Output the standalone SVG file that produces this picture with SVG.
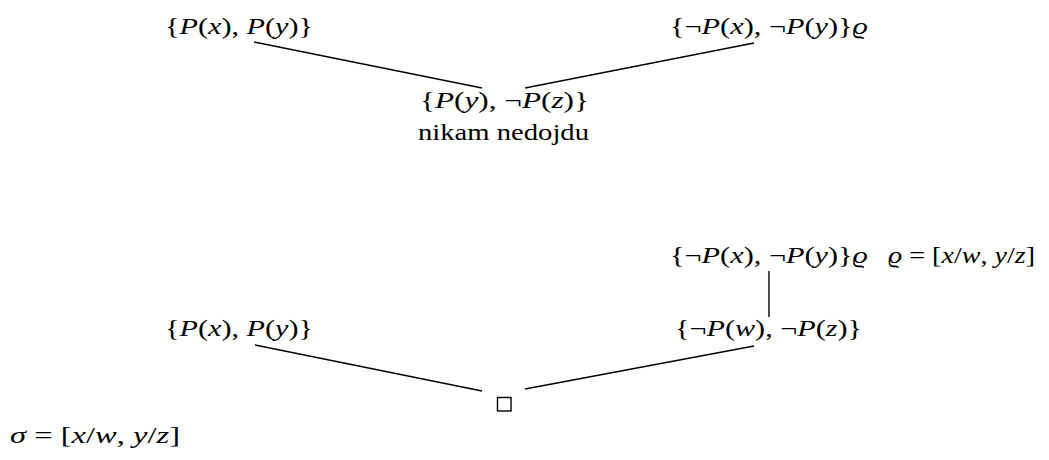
<svg xmlns="http://www.w3.org/2000/svg" width="1049" height="460" viewBox="0 0 1049 460">
<style>
text{font-family:"Liberation Serif","DejaVu Serif",serif;font-size:24px;fill:#000}
.i{font-style:italic}
.c line{stroke:#000;stroke-width:1.4}
</style>
<rect width="1049" height="460" fill="#fff"/>
<g class="c" id="connectors">
<line x1="254" y1="42" x2="482" y2="88"/>
<line x1="525" y1="88" x2="754" y2="43"/>
<line x1="769" y1="271" x2="769" y2="317"/>
<line x1="255" y1="345" x2="482" y2="391"/>
<line x1="525" y1="389" x2="754" y2="346"/>
</g>
<g id="n1"><text x="165" y="34" textLength="148" lengthAdjust="spacingAndGlyphs">{<tspan class="i">P</tspan>(<tspan class="i">x</tspan>), <tspan class="i">P</tspan>(<tspan class="i">y</tspan>)}</text></g>
<g id="n2"><text x="670" y="34" textLength="198" lengthAdjust="spacingAndGlyphs">{¬<tspan class="i">P</tspan>(<tspan class="i">x</tspan>), ¬<tspan class="i">P</tspan>(<tspan class="i">y</tspan>)}<tspan class="i">ϱ</tspan></text></g>
<g id="n3"><text x="420" y="108" textLength="169" lengthAdjust="spacingAndGlyphs">{<tspan class="i">P</tspan>(<tspan class="i">y</tspan>), ¬<tspan class="i">P</tspan>(<tspan class="i">z</tspan>)}</text>
<text x="418" y="140" textLength="171" lengthAdjust="spacingAndGlyphs">nikam nedojdu</text></g>
<g id="n4"><text x="670" y="263" textLength="198" lengthAdjust="spacingAndGlyphs">{¬<tspan class="i">P</tspan>(<tspan class="i">x</tspan>), ¬<tspan class="i">P</tspan>(<tspan class="i">y</tspan>)}<tspan class="i">ϱ</tspan></text>
<text x="888" y="263" textLength="147" lengthAdjust="spacingAndGlyphs"><tspan class="i">ϱ</tspan> = [<tspan class="i">x</tspan>/<tspan class="i">w</tspan>, <tspan class="i">y</tspan>/<tspan class="i">z</tspan>]</text></g>
<g id="n5"><text x="675" y="336" textLength="187" lengthAdjust="spacingAndGlyphs">{¬<tspan class="i">P</tspan>(<tspan class="i">w</tspan>), ¬<tspan class="i">P</tspan>(<tspan class="i">z</tspan>)}</text></g>
<g id="n6"><text x="165" y="336" textLength="148" lengthAdjust="spacingAndGlyphs">{<tspan class="i">P</tspan>(<tspan class="i">x</tspan>), <tspan class="i">P</tspan>(<tspan class="i">y</tspan>)}</text></g>
<g id="n7"><rect x="497.5" y="397.5" width="13.5" height="13.5" fill="none" stroke="#000" stroke-width="1.4"/></g>
<g id="n8"><text x="10" y="443" textLength="170" lengthAdjust="spacingAndGlyphs"><tspan class="i">σ</tspan> = [<tspan class="i">x</tspan>/<tspan class="i">w</tspan>, <tspan class="i">y</tspan>/<tspan class="i">z</tspan>]</text></g>
</svg>
